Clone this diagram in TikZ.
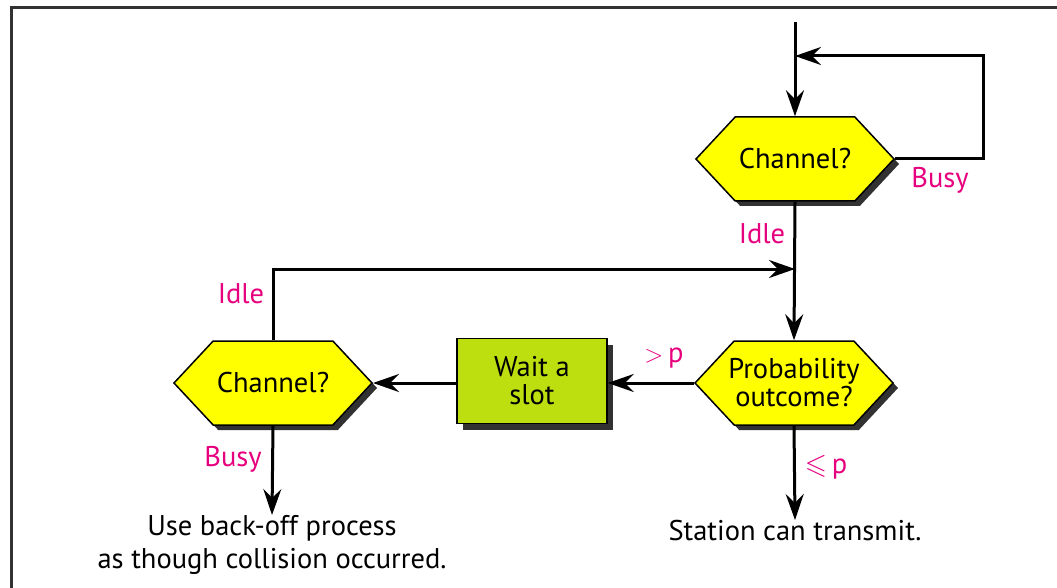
\documentclass[tikz,border=0pt]{standalone}
\usepackage{fontspec}
\usepackage{amssymb}
\setmainfont{PT Sans}
\usetikzlibrary{shapes.symbols,shadows,arrows.meta}
\definecolor{lbl}{RGB}{230,0,126}
\definecolor{hexy}{RGB}{255,255,0}
\definecolor{boxg}{RGB}{190,223,15}
\definecolor{shad}{RGB}{50,50,50}
\begin{document}
\begin{tikzpicture}[x=1pt,y=-1pt,
  font=\fontsize{28.5}{33}\selectfont,
  hexa/.style={signal, signal to=east and west, signal pointer angle=94,
    draw=black, line width=1.5pt, fill=hexy, minimum width=198pt, minimum height=84pt,
    inner sep=1pt, align=center,
    drop shadow={shadow xshift=5pt, shadow yshift=-5pt, fill=shad, opacity=1}},
  boxx/.style={rectangle, draw=black, line width=1.5pt, fill=boxg, minimum width=150pt,
    minimum height=85pt, align=center,
    drop shadow={shadow xshift=6pt, shadow yshift=-6pt, fill=shad, opacity=1}},
  arr/.style={line width=3pt, -{Stealth[length=26pt,width=18pt,inset=9pt]}},
  lab/.style={text=lbl, inner sep=0pt},
  txt/.style={align=center, inner sep=0pt}]
\useasboundingbox (0,0) rectangle (1057,588);
\draw[line width=3pt, shad] (11,588) -- (11,7.5) -- (1057,7.5);

\node[hexa] (ch1) at (795,159) {Channel?};
\node[hexa, inner xsep=-6pt, inner ysep=-2pt] (prob) at (794,383) {Probability\\[-5pt]outcome?};
\node[boxx] (wait) at (532,381) {Wait a\\[-5pt]slot};
\node[hexa] (ch2) at (273,383) {Channel?};

\coordinate (top) at (795,22);
\coordinate (loopc) at (983,56);
\coordinate (j) at (795,269);

\node[txt, anchor=north] (backoff) at (272,515) {Use back-off process\\as though collision occurred.};
\node[txt, anchor=north] (station) at (795,520) {Station can transmit.};

\draw[arr] (top) -- (ch1.north);
\draw[arr] (ch1.east) -| (loopc) -- (loopc -| top);
\draw[arr] (ch1.south) -- (prob.north);
\draw[arr] (ch2.north) |- (j);
\draw[arr] (prob.west) -- (prob.west -| wait.east);
\draw[arr] (wait.west |- ch2.east) -- (ch2.east);
\draw[arr] (ch2.south) -- (backoff.north);
\draw[arr] (prob.south) -- (station.north);

\node[lab] (busy1) at (940,180) {Busy};
\node[lab] (idle1) at (762,234) {Idle};
\node[lab] (idle2) at (241,294) {Idle};
\node[lab] (busy2) at (233,459) {Busy};
\node[lab] (gtp) at (664,358) {$>$\,p};
\node[lab] (lep) at (826,467) {$\leqslant$\,p};
\end{tikzpicture}
\end{document}
